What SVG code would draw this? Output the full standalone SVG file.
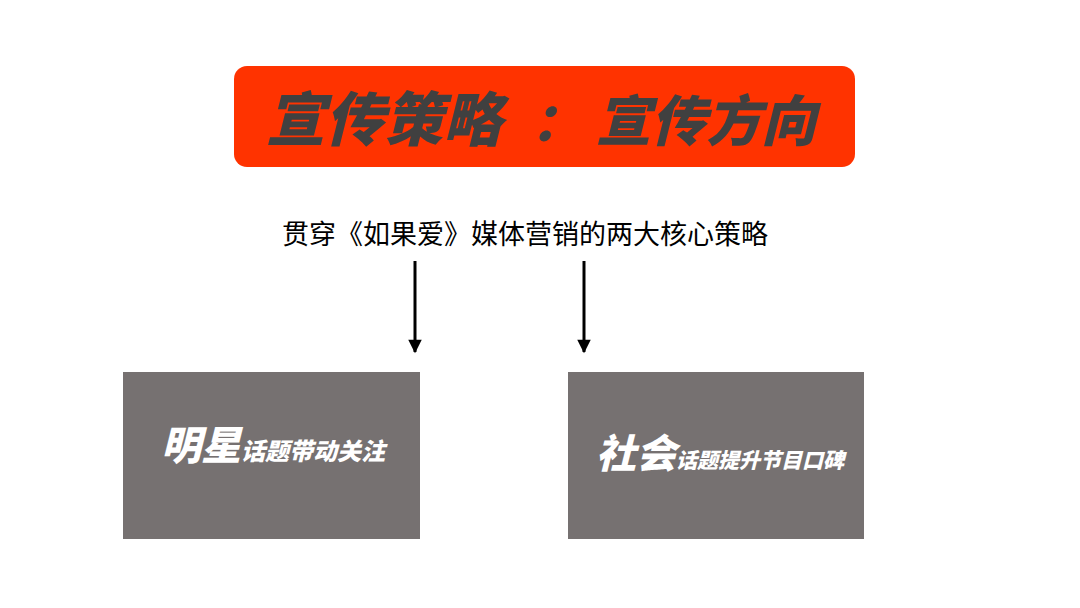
<svg xmlns="http://www.w3.org/2000/svg" width="1080" height="608" viewBox="0 0 1080 608">
<style>
.cjk{font-family:"Noto Sans CJK SC","Noto Sans",sans-serif}
.title{font-weight:900;font-style:italic;fill:#404040}
.box{fill:#767171}
.lbl{font-weight:900;font-style:italic;fill:#ffffff}
.conn{stroke:#000;stroke-width:3;fill:none}
</style>
<defs>
<marker id="ah" viewBox="0 0 10 10" refX="9" refY="5" markerWidth="5" markerHeight="4.5" orient="auto" markerUnits="strokeWidth">
<path d="M0,0 L10,5 L0,10 z" fill="#000"/>
</marker>
</defs>
<rect width="1080" height="608" fill="#fff"/>
<g id="title">
<rect x="234" y="66" width="621" height="101" rx="13" fill="#ff3300"/>
<text class="cjk title" y="141"><tspan x="266" font-size="59">宣传策略</tspan><tspan x="531" font-size="52">：</tspan><tspan x="596" font-size="55">宣传方向</tspan></text>
</g>
<g id="subtitle">
<text class="cjk" x="525" y="244" font-size="27" text-anchor="middle" fill="#000">贯穿《如果爱》媒体营销的两大核心策略</text>
</g>
<g id="connectors">
<line class="conn" x1="415" y1="261" x2="415" y2="352" marker-end="url(#ah)"/>
<line class="conn" x1="584" y1="261" x2="584" y2="352" marker-end="url(#ah)"/>
</g>
<g id="node-star">
<rect class="box" x="123" y="372" width="297" height="167"/>
<text class="cjk lbl" x="273" y="460" text-anchor="middle"><tspan font-size="40">明星</tspan><tspan font-size="24">话题带动关注</tspan></text>
</g>
<g id="node-social">
<rect class="box" x="568" y="372" width="296" height="167"/>
<text class="cjk lbl" x="720" y="468" text-anchor="middle"><tspan font-size="40">社会</tspan><tspan font-size="21">话题提升节目口碑</tspan></text>
</g>
</svg>
